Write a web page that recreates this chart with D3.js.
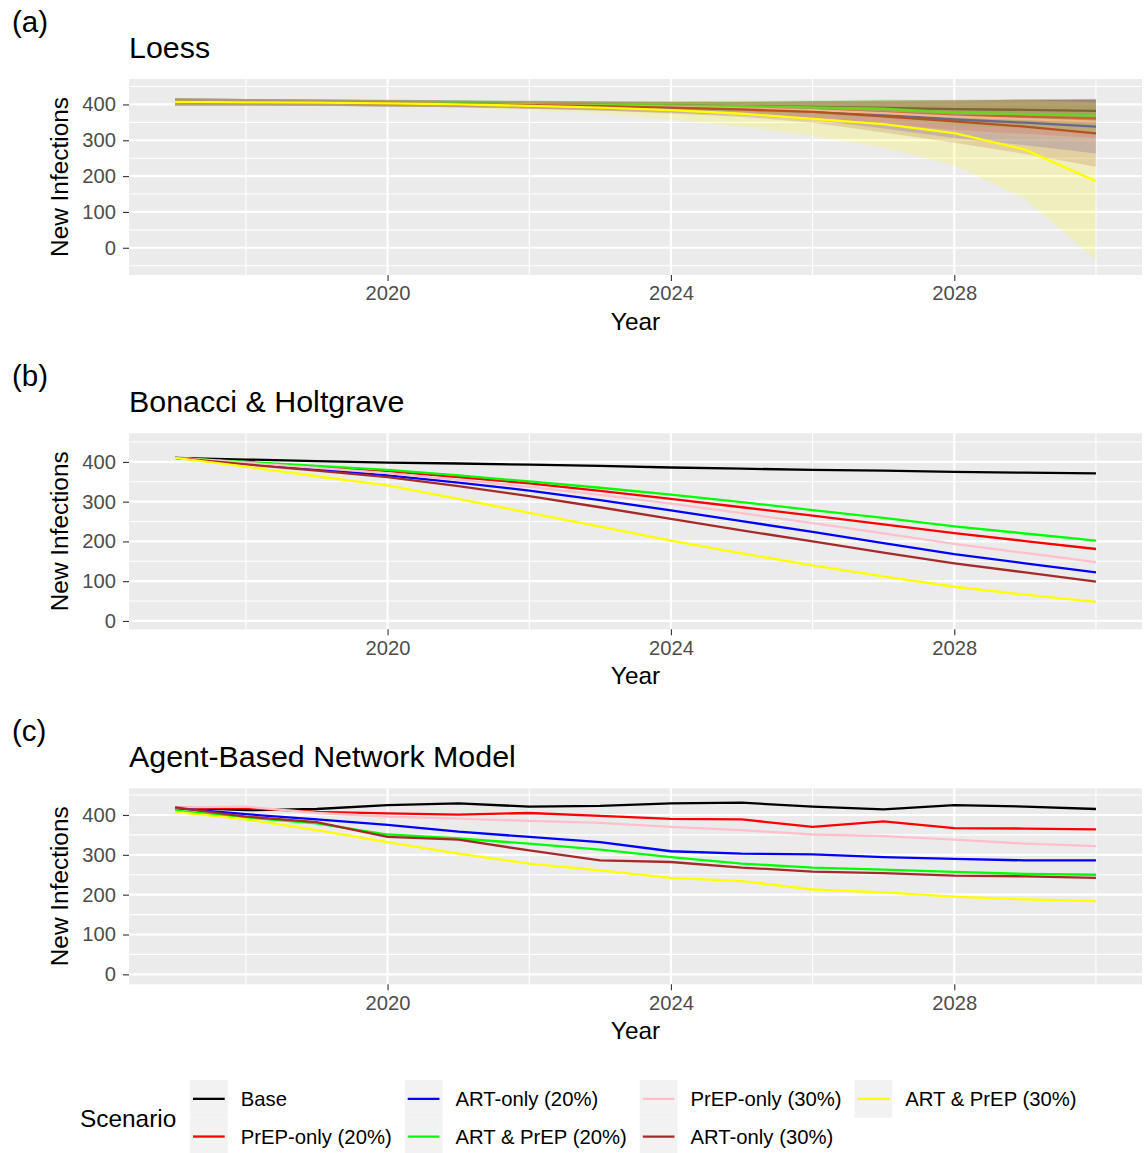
<!DOCTYPE html>
<html>
<head>
<meta charset="utf-8">
<script src="https://cdn.jsdelivr.net/npm/d3@7"></script>
<style>
  body { margin: 0; background: #fff; }
  svg text { font-family: "Liberation Sans", Arial, Helvetica, sans-serif; }
</style>
</head>
<body>
<svg id="chart" width="1144" height="1153"></svg>
<script>
// ---- 数据 ----
const years = [2017, 2018, 2019, 2020, 2021, 2022, 2023, 2024, 2025, 2026, 2027, 2028, 2029, 2030];
const scenarios = ['Base', 'PrEP-only (20%)', 'ART-only (20%)', 'ART & PrEP (20%)',
                   'PrEP-only (30%)', 'ART-only (30%)', 'ART & PrEP (30%)'];
const scenarioColors = ['#000000', '#ff0000', '#0000ff', '#00ff00', '#ffc0cb', '#a52a2a', '#ffff00'];

// (a) Loess 拟合
const loessBase    = [407, 406, 405, 404, 403, 401, 399, 397, 395, 393, 390, 387, 385, 382];
const loessPrep20  = [407, 406, 405, 403, 401, 399, 397, 394, 390, 385, 377, 369, 366, 361];
const loessArt20   = [407, 406, 405, 403, 401, 398, 395, 392, 388, 383, 371, 358, 349, 338];
const loessBoth20  = [407, 406, 405, 404, 403, 401, 399, 397, 395, 392, 388, 377, 373, 369];
const loessPrep30  = [407, 406, 405, 403, 401, 399, 396, 393, 389, 384, 376, 366, 359, 352];
const loessArt30   = [407, 406, 405, 403, 401, 398, 395, 391, 386, 379, 367, 353, 338, 319];
const loessBoth30  = [407, 406, 405, 403, 400, 396, 391, 384, 374, 360, 345, 320, 274, 186];
// (a) 置信带半宽
const seBase   = [10, 9, 9, 9, 9, 9, 10, 11, 13, 16, 20, 24, 28, 32];
const sePrep20 = [10, 9, 9, 9, 9, 10, 11, 13, 16, 22, 30, 40, 48, 55];
const seArt20  = [10, 9, 9, 9, 9, 10, 12, 15, 19, 26, 38, 52, 63, 75];
const seBoth20 = [10, 9, 9, 9, 9, 9, 10, 12, 15, 20, 26, 35, 40, 45];
const sePrep30 = [10, 9, 9, 9, 9, 10, 11, 14, 18, 24, 33, 45, 53, 60];
const seArt30  = [10, 9, 9, 9, 9, 10, 12, 16, 21, 30, 45, 60, 76, 93];
const seBoth30 = [10, 9, 9, 9, 10, 12, 16, 26, 36, 48, 65, 90, 138, 220];

// (b) Bonacci & Holtgrave
const bhBase   = [410, 406, 402, 398, 396, 393, 390, 386, 383, 380, 378, 375, 373, 371];
const bhPrep20 = [410, 399, 388, 377, 362, 346, 327, 307, 286, 265, 243, 221, 201, 181];
const bhArt20  = [410, 397, 382, 366, 348, 328, 304, 278, 251, 224, 196, 168, 145, 122];
const bhBoth20 = [410, 400, 390, 380, 366, 351, 335, 318, 299, 279, 259, 238, 220, 202];
const bhPrep30 = [410, 398, 385, 372, 355, 337, 317, 295, 271, 246, 220, 194, 171, 148];
const bhArt30  = [410, 394, 378, 362, 339, 314, 286, 257, 228, 200, 172, 145, 122, 99];
const bhBoth30 = [410, 388, 364, 341, 307, 272, 237, 202, 170, 140, 112, 86, 66, 48];

// (c) Agent-Based Network Model
const abmBase   = [419, 412, 415, 425, 429, 421, 423, 429, 431, 421, 414, 425, 421, 415];
const abmPrep20 = [419, 417, 408, 404, 401, 405, 398, 390, 389, 370, 384, 367, 366, 364];
const abmArt20  = [417, 402, 389, 375, 358, 345, 332, 309, 303, 301, 294, 290, 286, 286];
const abmBoth20 = [411, 394, 379, 351, 341, 328, 313, 294, 278, 268, 263, 257, 252, 250];
const abmPrep30 = [419, 421, 405, 396, 391, 385, 380, 370, 362, 351, 347, 338, 328, 322];
const abmArt30  = [419, 396, 382, 345, 338, 311, 286, 282, 268, 258, 254, 248, 246, 242];
const abmBoth30 = [408, 389, 362, 332, 303, 278, 261, 242, 234, 213, 206, 195, 188, 184];

// 刻度
const yTicks = [0, 100, 200, 300, 400];
const yMinor = [-50, 50, 150, 250, 350, 450];
const xTicks = [2020, 2024, 2028];
const xMinor = [2018, 2022, 2026, 2030];

// ---- 面板设置 ----
const panels = [
    { tag: '(a)', title: 'Loess', top: 79, domain: [-76, 471],
      lines: [loessBase, loessPrep20, loessArt20, loessBoth20, loessPrep30, loessArt30, loessBoth30],
      se: [seBase, sePrep20, seArt20, seBoth20, sePrep30, seArt30, seBoth30] },
    { tag: '(b)', title: 'Bonacci & Holtgrave', top: 433.3, domain: [-21, 472],
      lines: [bhBase, bhPrep20, bhArt20, bhBoth20, bhPrep30, bhArt30, bhBoth30] },
    { tag: '(c)', title: 'Agent-Based Network Model', top: 788.3, domain: [-25, 467],
      lines: [abmBase, abmPrep20, abmArt20, abmBoth20, abmPrep30, abmArt30, abmBoth30] }
];

const svg = d3.select('#chart');
const left = 129, right = 1142, panelH = 196;
const x = d3.scaleLinear().domain([2016.35, 2030.65]).range([left, right]);

panels.forEach((p, pi) => {
    const top = p.top, bottom = top + panelH;
    const y = d3.scaleLinear().domain(p.domain).range([bottom, top]);
    const g = svg.append('g');

    // 标签与标题
    g.append('text').attr('x', 12).attr('y', top - 47)
        .attr('font-size', 29.5).attr('fill', '#000').text(p.tag);
    g.append('text').attr('x', left).attr('y', top - 21)
        .attr('font-size', 30.4).attr('fill', '#000').text(p.title);

    // 背景
    g.append('rect').attr('x', left).attr('y', top)
        .attr('width', right - left).attr('height', panelH).attr('fill', '#ebebeb');

    // 次网格线
    g.selectAll('.ymin').data(yMinor.filter(v => v > p.domain[0] && v < p.domain[1])).enter()
        .append('line').attr('x1', left).attr('x2', right)
        .attr('y1', d => y(d)).attr('y2', d => y(d))
        .attr('stroke', '#fff').attr('stroke-width', 1.1);
    g.selectAll('.xmin').data(xMinor).enter()
        .append('line').attr('y1', top).attr('y2', bottom)
        .attr('x1', d => x(d)).attr('x2', d => x(d))
        .attr('stroke', '#fff').attr('stroke-width', 1.1);
    // 主网格线
    g.selectAll('.ymaj').data(yTicks).enter()
        .append('line').attr('x1', left).attr('x2', right)
        .attr('y1', d => y(d)).attr('y2', d => y(d))
        .attr('stroke', '#fff').attr('stroke-width', 2.2);
    g.selectAll('.xmaj').data(xTicks).enter()
        .append('line').attr('y1', top).attr('y2', bottom)
        .attr('x1', d => x(d)).attr('x2', d => x(d))
        .attr('stroke', '#fff').attr('stroke-width', 2.2);

    // 剪裁
    const clipId = 'clip' + pi;
    svg.append('clipPath').attr('id', clipId).append('rect')
        .attr('x', left).attr('y', top).attr('width', right - left).attr('height', panelH);
    const plot = g.append('g').attr('clip-path', `url(#${clipId})`);

    const line = d3.line().x((d, i) => x(years[i])).y(d => y(d));
    p.lines.forEach((vals, si) => {
        // 置信带
        if (p.se) {
            const se = p.se[si];
            const area = d3.area()
                .x((d, i) => x(years[i]))
                .y0((d, i) => y(d - se[i]))
                .y1((d, i) => y(d + se[i]));
            plot.append('path').datum(vals).attr('d', area)
                .attr('fill', scenarioColors[si]).attr('fill-opacity', 0.19);
        }
        plot.append('path').datum(vals).attr('d', line)
            .attr('fill', 'none').attr('stroke', scenarioColors[si])
            .attr('stroke-width', 2.3).attr('stroke-linejoin', 'round');
    });

    // 坐标轴
    const ya = g.append('g').attr('transform', `translate(${left},0)`)
        .call(d3.axisLeft(y).tickValues(yTicks).tickSize(6).tickPadding(7));
    const xa = g.append('g').attr('transform', `translate(0,${bottom})`)
        .call(d3.axisBottom(x).tickValues(xTicks).tickFormat(d3.format('d')).tickSize(6).tickPadding(5));
    [ya, xa].forEach(a => {
        a.select('.domain').remove();
        a.selectAll('line').attr('stroke', '#333').attr('stroke-width', 1.1);
        a.selectAll('text').attr('fill', '#4d4d4d').attr('font-size', 20.2)
            .attr('font-family', '"Liberation Sans", Arial, sans-serif');
    });

    g.append('text').attr('x', (left + right) / 2).attr('y', bottom + 55)
        .attr('text-anchor', 'middle').attr('font-size', 24.4).text('Year');
    g.append('text')
        .attr('transform', `translate(68,${(top + bottom) / 2}) rotate(-90)`)
        .attr('text-anchor', 'middle').attr('font-size', 24.4).text('New Infections');
});

// ---- 图例 ----
const legend = svg.append('g');
legend.append('text').attr('x', 80).attr('y', 1127).attr('font-size', 24.4).text('Scenario');
const keySize = 37.7, rowTops = [1080, 1117.7];
let colX = 190;
for (let c = 0; c < 4; c++) {
    let maxW = 0;
    for (let r = 0; r < 2; r++) {
        const si = c * 2 + r;
        if (si >= scenarios.length) continue;
        const ky = rowTops[r];
        legend.append('rect').attr('x', colX).attr('y', ky)
            .attr('width', keySize).attr('height', keySize).attr('fill', '#f2f2f2');
        legend.append('line').attr('x1', colX + 3).attr('x2', colX + keySize - 3)
            .attr('y1', ky + keySize / 2).attr('y2', ky + keySize / 2)
            .attr('stroke', scenarioColors[si]).attr('stroke-width', 2.3);
        const t = legend.append('text').attr('x', colX + keySize + 13)
            .attr('y', ky + keySize / 2 + 7).attr('font-size', 20.3).text(scenarios[si]);
        maxW = Math.max(maxW, t.node().getComputedTextLength());
    }
    colX += keySize + 13 + maxW + 13;
}
</script>
</body>
</html>
